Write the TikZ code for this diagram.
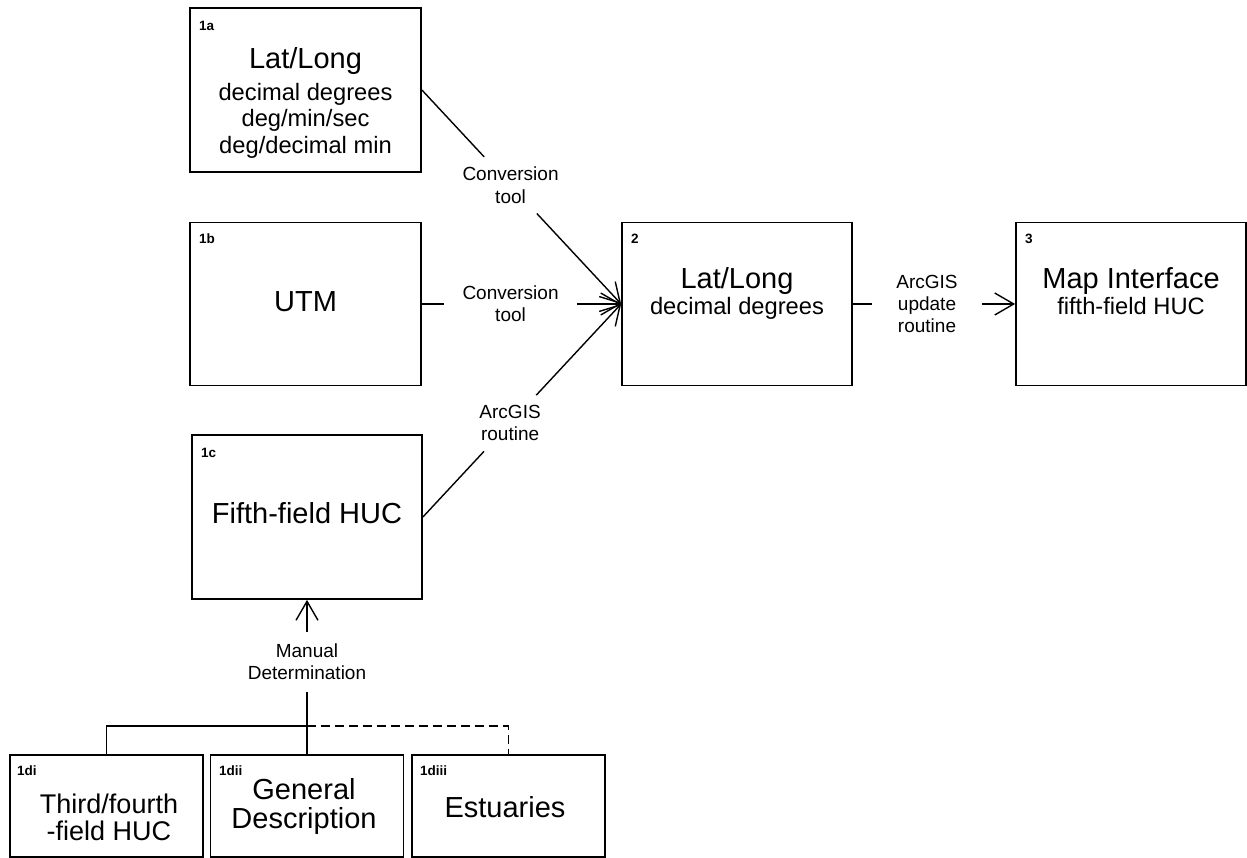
\documentclass[tikz,border=0pt]{standalone}
\usepackage{fontspec}
\setmainfont{Liberation Sans}
\usetikzlibrary{arrows.meta}
\begin{document}
\begin{tikzpicture}[x=1pt,y=-1pt,
 box/.style={draw, line width=1.8pt, inner sep=0pt},
 tag/.style={anchor=base west, inner sep=0pt, font=\fontsize{13.5}{15}\selectfont\bfseries},
 big/.style={anchor=base, inner sep=0pt, font=\fontsize{29}{33}\selectfont},
 low/.style={anchor=base, inner sep=0pt, font=\fontsize{27}{30}\selectfont},
 sub/.style={anchor=base, inner sep=0pt, font=\fontsize{23.7}{27}\selectfont},
 lbl/.style={align=center, inner xsep=18pt, inner ysep=10pt, font=\fontsize{19}{22.3}\selectfont},
 conn/.style={line width=1.4pt},
 arr/.style={conn, -{Straight Barb[length=19pt,width=22pt]}}
]
\useasboundingbox (0,0) rectangle (1247,858);

% boxes
\node[box, minimum width=231pt, minimum height=164pt] (b1a) at (305.5,90) {};
\node[box, minimum width=231pt, minimum height=163pt] (b1b) at (305.5,304) {};
\node[box, minimum width=230pt, minimum height=164pt] (b1c) at (307,517) {};
\node[box, minimum width=230pt, minimum height=163pt] (b2) at (737,304) {};
\node[box, minimum width=230pt, minimum height=163pt] (b3) at (1131,304) {};
\node[box, minimum width=193pt, minimum height=102pt] (b1di) at (106.5,806) {};
\node[box, minimum width=193pt, minimum height=102pt] (b1dii) at (307,806) {};
\node[box, minimum width=193pt, minimum height=102pt] (b1diii) at (508.5,806) {};

% tags
\node[tag] (g1a) at (199,30.5) {1a};
\node[tag] (g1b) at (199,244) {1b};
\node[tag] (g1c) at (201,457.5) {1c};
\node[tag] (g2) at (631,244) {2};
\node[tag] (g3) at (1025,244) {3};
\node[tag] (g1di) at (17,775) {1di};
\node[tag] (g1dii) at (219,775) {1dii};
\node[tag] (g1diii) at (420,775) {1diii};

% box texts
\node[big] (t1a) at (305.5,69) {Lat/Long};
\node[sub] (s1a1) at (305.5,100.5) {decimal degrees};
\node[sub] (s1a2) at (305.5,127) {deg/min/sec};
\node[sub] (s1a3) at (305.5,153.5) {deg/decimal min};
\node[big] (t1b) at (305.5,312) {UTM};
\node[big] (t1c) at (307,523) {Fifth-field HUC};
\node[big] (t2) at (737,289) {Lat/Long};
\node[sub] (s2) at (737,315) {decimal degrees};
\node[big] (t3) at (1131,289) {Map Interface};
\node[sub] (s3) at (1131,315) {fifth-field HUC};
\node[low] (td1) at (109,813) {Third/fourth};
\node[low] (td2) at (109,840) {-field HUC};
\node[big] (te1) at (304,799) {General};
\node[big] (te2) at (304,828) {Description};
\node[big] (tf) at (505,817) {Estuaries};

% connectors into box 2
\path (b1a.east) -- (b2.west) node[lbl, pos=0.445] (c1) {Conversion\\tool};
\draw[conn] (b1a.east) -- (c1);
\draw[arr] (c1) -- (b2.west);

\path (b1b.east) -- (b2.west) node[lbl, pos=0.445] (c2) {Conversion\\tool};
\draw[conn] (b1b.east) -- (c2);
\draw[arr] (c2) -- (b2.west);

\path (b1c.east) -- (b2.west) node[lbl, pos=0.44] (c3) {ArcGIS\\routine};
\draw[conn] (b1c.east) -- (c3);
\draw[arr] (c3) -- (b2.west);

% box 2 to box 3
\path (b2.east) -- (b3.west) node[lbl, inner xsep=24pt, pos=0.457] (c4) {ArcGIS\\update\\routine};
\draw[conn] (b2.east) -- (c4);
\draw[arr] (c4) -- (b3.west);

% manual determination
\coordinate (jn) at (307,726);
\node[lbl, inner xsep=6pt, inner ysep=12pt] (cm) at (307,662) {Manual\\Determination};
\draw[arr] (cm) -- (b1c.south);
\draw[conn] (b1dii.north) -- (cm);
\draw[conn] (jn) -| (b1di.north);
\draw[conn, dash pattern=on 9pt off 5pt] (jn) -| (b1diii.north);
\end{tikzpicture}
\end{document}
